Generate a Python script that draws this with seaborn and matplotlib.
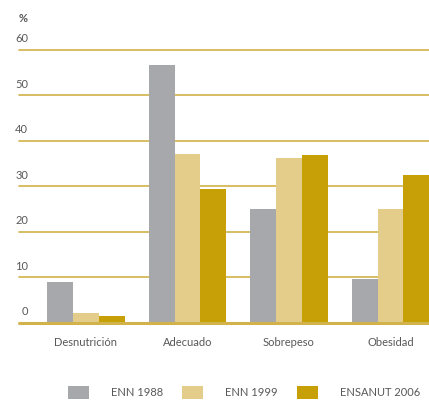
import matplotlib
matplotlib.use("Agg")
import matplotlib.pyplot as plt
import seaborn as sns
import pandas as pd

# datos
categorias = ["Desnutrición", "Adecuado", "Sobrepeso", "Obesidad"]
encuestas = ["ENN 1988", "ENN 1999", "ENSANUT 2006"]
enn_1988 = [8.9, 56.6, 25.0, 9.6]
enn_1999 = [2.1, 37.1, 36.2, 25.0]
ensanut_2006 = [1.5, 29.4, 36.9, 32.5]
y_ticks = [0, 10, 20, 30, 40, 50, 60]

colores = ["#a7a8ab", "#e4cd8a", "#c6a006"]
oro = "#d2b24a"
texto = "#58585a"

df = pd.DataFrame({
    "categoria": categorias * 3,
    "encuesta": [e for e in encuestas for _ in categorias],
    "valor": enn_1988 + enn_1999 + ensanut_2006,
})

sns.set_style("white")
plt.rcParams["font.family"] = ["Lato", "DejaVu Sans"]

fig = plt.figure(figsize=(4.29, 4.00), dpi=100)
ax = fig.add_axes([19 / 429, 1 - 322.7 / 400, 1 - 19 / 429, (322.7 - 49.7) / 400])

# líneas de la cuadrícula
for t in y_ticks:
    ax.axhline(t, color=oro, lw=2.2 if t == 0 else 1.2, zorder=0 if t else 3, clip_on=False)

sns.barplot(data=df, x="categoria", y="valor", hue="encuesta", order=categorias,
            hue_order=encuestas, palette=colores, width=0.76, gap=0,
            saturation=1, linewidth=0, ax=ax, legend=True, zorder=2)

ax.set_xlim(-0.66, 3.38)
ax.set_ylim(0, 60)
ax.set_yticks([])
ax.set_xlabel("")
ax.set_ylabel("")
for s in ax.spines.values():
    s.set_visible(False)
ax.tick_params(axis="x", length=0, pad=10, labelsize=8, labelcolor=texto)

# etiquetas del eje y por encima de cada línea
for t in y_ticks:
    ax.annotate(str(t), xy=(28 / 429, t), xycoords=("figure fraction", "data"),
                xytext=(0, 4), textcoords="offset points", ha="right", va="bottom",
                fontsize=8, color=texto, annotation_clip=False)
fig.text(23 / 429, 1 - 19 / 400, "%", ha="center", va="center", fontsize=8,
         fontweight="bold", color=texto)

handles, labels = ax.get_legend_handles_labels()
ax.get_legend().remove()
fig.legend(handles, labels, loc="lower left", bbox_to_anchor=(62 / 429, -0.012),
           ncol=3, frameon=False, fontsize=8, labelcolor=texto, borderpad=0,
           handlelength=1.9, handleheight=1.45, handletextpad=2.0, columnspacing=1.7)

fig.savefig("out.png", dpi=100)
